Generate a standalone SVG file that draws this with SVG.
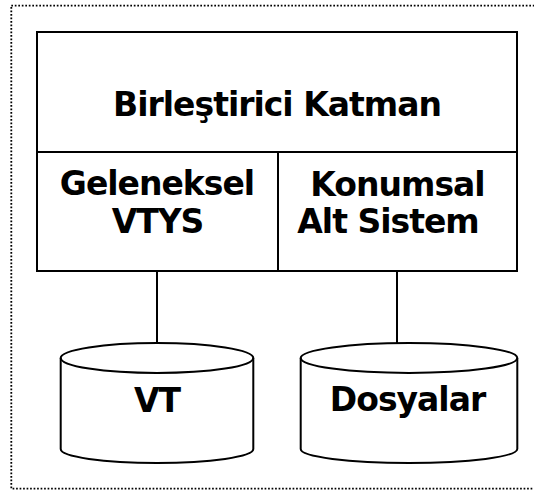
<svg xmlns="http://www.w3.org/2000/svg" width="534" height="491" viewBox="0 0 534 491">
  <style>
    .frame { fill: none; stroke: #000; stroke-width: 1.8; stroke-dasharray: 1.7 1.8; }
    .box { fill: #fff; stroke: #000; stroke-width: 2; }
    .edge { fill: none; stroke: #000; stroke-width: 2; }
    .db { fill: #fff; stroke: #000; stroke-width: 2; }
    .lbl { font-family: "DejaVu Sans", Verdana, sans-serif; font-weight: bold; font-size: 33px; letter-spacing: -1px; fill: #000; text-anchor: middle; }
  </style>
  <rect width="534" height="491" fill="#fff"/>
  <!-- dotted outer frame, open past the right edge -->
  <rect class="frame" x="11.3" y="5.7" width="530" height="483"/>

  <!-- connectors -->
  <g id="connectors">
    <line class="edge" x1="157" y1="271" x2="157" y2="343"/>
    <line class="edge" x1="397" y1="271" x2="397" y2="343"/>
  </g>

  <g id="birlestirici-katman">
    <rect class="box" x="37" y="32" width="480" height="120"/>
    <text class="lbl" x="277" y="115.7">Birleştirici Katman</text>
  </g>

  <g id="geleneksel-vtys">
    <rect class="box" x="37" y="152" width="241" height="119"/>
    <text class="lbl" x="157" y="195">Geleneksel</text>
    <text class="lbl" x="157.5" y="233.3">VTYS</text>
  </g>

  <g id="konumsal-alt-sistem">
    <rect class="box" x="278" y="152" width="239" height="119"/>
    <text class="lbl" x="397.5" y="195.5">Konumsal</text>
    <text class="lbl" x="388" y="233.3">Alt Sistem</text>
  </g>

  <g id="vt">
    <path class="db" d="M60.7,358 A96.3,15 0 0 1 253.3,358 L253.3,449 A96.3,14 0 0 1 60.7,449 Z"/>
    <path class="edge" d="M60.7,358 A96.3,15 0 0 0 253.3,358"/>
    <text class="lbl" x="157" y="411.5">VT</text>
  </g>

  <g id="dosyalar">
    <path class="db" d="M300.7,358 A108.3,15 0 0 1 517.3,358 L517.3,449 A108.3,14 0 0 1 300.7,449 Z"/>
    <path class="edge" d="M300.7,358 A108.3,15 0 0 0 517.3,358"/>
    <text class="lbl" x="407.5" y="411">Dosyalar</text>
  </g>
</svg>
